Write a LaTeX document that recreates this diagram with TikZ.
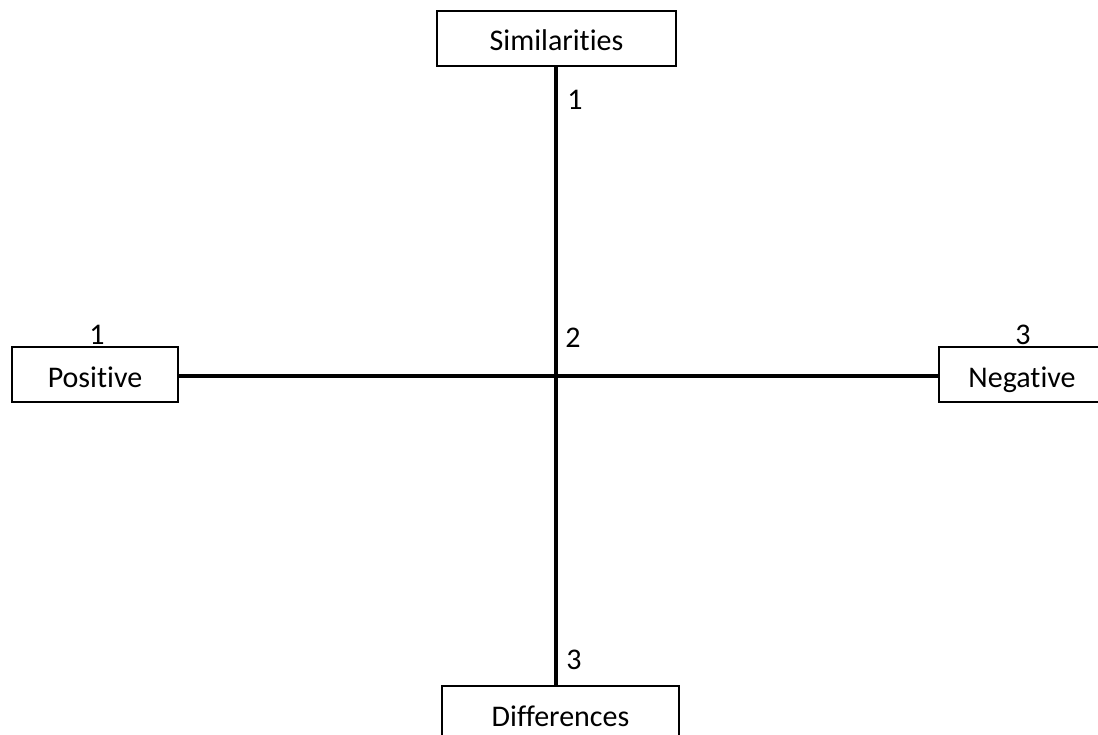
\documentclass[tikz,border=0pt]{standalone}
\usepackage{fontspec}
\setmainfont{Carlito}[Ligatures={NoCommon,NoRare,NoDiscretionary}]
\begin{document}
\begin{tikzpicture}[x=1pt,y=-1pt,
  every node/.style={font=\fontsize{30}{35}\selectfont},
  termbox/.style={draw=black,line width=1.4pt,fill=white,inner sep=0pt,
    minimum height=55pt,text height=27pt,text depth=2pt},
  axis/.style={line width=4pt,black},
  num/.style={inner sep=0pt}]
\useasboundingbox (0,0) rectangle (1098,735);
\clip (0,0) rectangle (1098,735);
\node[termbox,minimum width=239pt] (sim) at (556.5,38.5) {Similarities};
\node[termbox,minimum width=166pt] (pos) at (95,374.5) {Positive};
\node[termbox,minimum width=166pt] (neg) at (1022,374.5) {Negative};
\node[termbox,minimum width=237pt] (dif) at (560.5,713.5) {Differences};
\coordinate (c) at (556,376);
\draw[axis] (sim.south -| c) -- (dif.north -| c);
\draw[axis] (pos.east |- c) -- (neg.west |- c);
\node[num] (s1) at (575,100) {1};
\node[num] (s2) at (573,338) {2};
\node[num] (s3) at (574,660) {3};
\node[num] (p1) at (97,335) {1};
\node[num] (n3) at (1023,335) {3};
\end{tikzpicture}
\end{document}
